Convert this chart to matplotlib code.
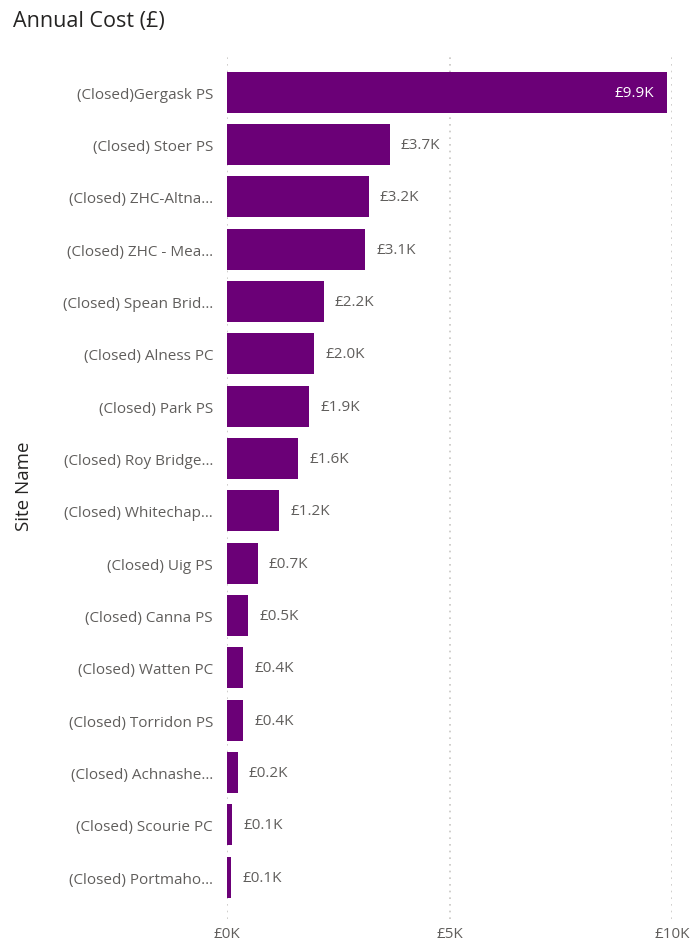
import matplotlib
matplotlib.use("Agg")
import matplotlib.pyplot as plt
from matplotlib.ticker import FuncFormatter

# Site annual costs, thousands of pounds
sites = [
    "(Closed)Gergask PS",
    "(Closed) Stoer PS",
    "(Closed) ZHC-Altna…",
    "(Closed) ZHC - Mea…",
    "(Closed) Spean Brid…",
    "(Closed) Alness PC",
    "(Closed) Park PS",
    "(Closed) Roy Bridge…",
    "(Closed) Whitechap…",
    "(Closed) Uig PS",
    "(Closed) Canna PS",
    "(Closed) Watten PC",
    "(Closed) Torridon PS",
    "(Closed) Achnashe…",
    "(Closed) Scourie PC",
    "(Closed) Portmaho…",
]
cost_k = [9.89, 3.66, 3.18, 3.11, 2.17, 1.96, 1.85, 1.60, 1.17, 0.69,
          0.47, 0.37, 0.36, 0.24, 0.12, 0.09]
x_ticks = [0, 5, 10]

BAR = "#6B0077"
GREY = "#605E5C"
DARK = "#252423"
FONT = ["Open Sans", "DejaVu Sans"]
plt.rcParams["font.family"] = FONT

W, H = 694, 945
fig = plt.figure(figsize=(W / 100, H / 100), dpi=100)
left, right = 227, 672
top, bottom = 57, 920
ax = fig.add_axes([left / W, 1 - bottom / H, (right - left) / W, (bottom - top) / H])

ypos = list(range(len(sites)))
ax.barh(ypos, cost_k, height=0.78, color=BAR, zorder=2)
ax.set_ylim(15.8, -0.69)
ax.set_xlim(0, 10)

ax.set_yticks(ypos)
ax.set_yticklabels(sites, fontsize=11, color=GREY)
ax.set_xticks(x_ticks)
ax.xaxis.set_major_formatter(FuncFormatter(lambda v, _: f"£{v:.0f}K"))
ax.tick_params(axis="x", labelsize=11, colors=GREY, length=0, pad=5)
ax.tick_params(axis="y", length=0, pad=10)

ax.grid(axis="x", linestyle=(0, (1, 3)), color="#C8C6C4", linewidth=1.2, zorder=0)
for s in ax.spines.values():
    s.set_visible(False)

# value labels
for y, v in zip(ypos, cost_k):
    txt = f"£{v:.1f}K"
    if v > 8:
        ax.annotate(txt, (v, y), xytext=(-9, 0), textcoords="offset points",
                    ha="right", va="center", color="white", fontsize=11)
    else:
        ax.annotate(txt, (v, y), xytext=(8, 0), textcoords="offset points",
                    ha="left", va="center", color=GREY, fontsize=11)

fig.text(13 / W, 1 - 22 / H, "Annual Cost (£)", fontsize=15.5, color=DARK,
         ha="left", va="center")
fig.text(24 / W, 1 - 486 / H, "Site Name", fontsize=13.5, color=DARK,
         rotation=90, ha="center", va="center")

fig.savefig("out.png", dpi=100)
